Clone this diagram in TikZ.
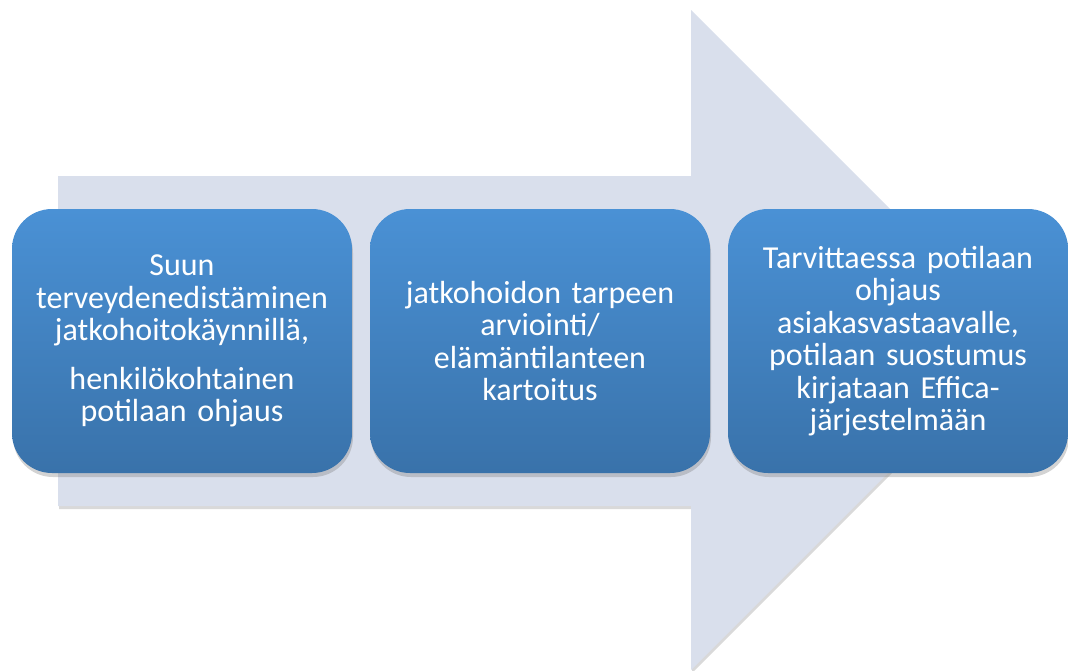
\documentclass[tikz,border=0pt]{standalone}
\usepackage{fontspec}
\setmainfont[WordSpace=0.7]{Carlito}
\usetikzlibrary{positioning,shadows}
\definecolor{nuoli}{RGB}{217,223,236}
\definecolor{ylasin}{RGB}{74,145,213}
\definecolor{alin}{RGB}{57,114,170}
\tikzset{vaihe/.style={rectangle,rounded corners=40pt,minimum width=340pt,minimum height=264pt,
  top color=ylasin,bottom color=alin,text=white,text width=330pt,align=center,
  font=\fontsize{32}{32.5}\selectfont,
  drop shadow={shadow xshift=1pt,shadow yshift=-4pt,opacity=.35}},}

\begin{document}
\begin{tikzpicture}[x=1pt,y=-1pt]
	\useasboundingbox (0,0) rectangle (1068,670);
	% iso nuoli taustalla
	\fill[nuoli,drop shadow={shadow xshift=1pt,shadow yshift=-3pt,opacity=.3}]
		(58,176) -- (691,176) -- (691,10) -- (1021,340) -- (691,670) -- (691,506) -- (58,506) -- cycle;
	\node[vaihe] (s1) at (182,341) {Suun\\ terveydenedistäminen\\ jatkohoitokäynnillä,\\[16pt] henkilökohtainen\\ potilaan ohjaus};
	\node[vaihe] (s2) at (540,341) {jatkohoidon tarpeen\\ arviointi/\\ elämäntilanteen\\ kartoitus};
	\node[vaihe] (s3) at (898,341) {Tarvittaessa potilaan\\ ohjaus\\ asiakasvastaavalle,\\ potilaan suostumus\\ kirjataan Effica-\\ järjestelmään};
\end{tikzpicture}
\end{document}
